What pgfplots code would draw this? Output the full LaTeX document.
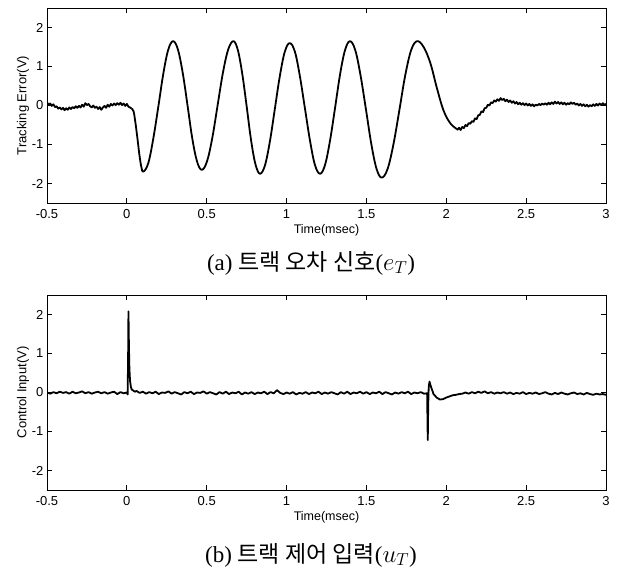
\documentclass[border=0pt]{standalone}
\usepackage{fontspec}
\setmainfont{Liberation Serif}
\setsansfont{Liberation Sans}
\newfontfamily\kr{Noto Sans CJK KR}
\usepackage{pgfplots}
\pgfplotsset{compat=1.18}

\pgfplotsset{
  scope/.style={
    scale only axis, width=559pt, height=195pt,
    xmin=-0.5, xmax=3, ymin=-2.5, ymax=2.5,
    xtick={-0.5,0,0.5,1,1.5,2,2.5,3},
    ytick={-2,-1,0,1,2},
    tick align=inside, major tick length=5pt,
    axis line style={line width=0.9pt},
    every tick/.style={black, line width=0.8pt},
    /pgf/number format/assume math mode=true,
    ticklabel style={font=\sffamily\fontsize{13}{13}\selectfont},
    xticklabel style={yshift=-3pt},
    xlabel style={font=\sffamily\fontsize{12.5}{12.5}\selectfont, yshift=1pt},
    ylabel style={font=\sffamily\fontsize{13}{13}\selectfont, yshift=-4pt},
    xlabel={Time(msec)},
  },
  trace/.style={black, line width=1.8pt, line join=round},
}

\begin{document}
\begin{tikzpicture}
% (a) tracking error
\begin{axis}[scope, at={(47pt,368pt)}, anchor=south west, ylabel={Tracking Error(V)}]
\addplot[trace] coordinates {
(-0.50,0.08) (-0.49,0.02) (-0.48,0.05) (-0.47,-0.01) (-0.46,0.03) (-0.45,-0.04)
(-0.44,-0.02) (-0.43,-0.08) (-0.42,-0.05) (-0.41,-0.10) (-0.40,-0.06) (-0.39,-0.12)
(-0.38,-0.07) (-0.37,-0.11) (-0.36,-0.05) (-0.35,-0.09) (-0.34,-0.04) (-0.33,-0.07)
(-0.32,-0.02) (-0.31,-0.06) (-0.30,-0.01) (-0.29,-0.05) (-0.28,0.02) (-0.27,-0.03)
(-0.26,0.06) (-0.25,0.01) (-0.24,0.04) (-0.23,-0.02) (-0.22,-0.05) (-0.21,0.00)
(-0.20,-0.06) (-0.19,-0.03) (-0.18,-0.09) (-0.17,-0.04) (-0.16,-0.11) (-0.15,-0.05)
(-0.14,-0.01) (-0.13,-0.06) (-0.12,0.02) (-0.11,-0.03) (-0.10,0.04) (-0.09,0.00)
(-0.08,0.05) (-0.07,0.01) (-0.06,0.06) (-0.05,0.02) (-0.04,0.07) (-0.03,0.01)
(-0.02,0.05) (-0.01,-0.01) (0.00,0.04) (0.01,-0.03) (0.02,-0.05) (0.03,-0.08)
};
\addplot[trace, smooth, tension=0.6] coordinates {
(0.03,-0.08) (0.042,-0.15) (0.054,-0.45) (0.067,-0.87) (0.079,-1.28) (0.091,-1.58)
(0.103,-1.70) (0.134,-1.48) (0.165,-0.86) (0.197,-0.03) (0.228,0.81) (0.259,1.43)
(0.29,1.65) (0.320,1.43) (0.350,0.83) (0.380,0.0) (0.409,-0.83) (0.439,-1.43)
(0.469,-1.65) (0.502,-1.43) (0.535,-0.83) (0.568,0.0) (0.601,0.83) (0.634,1.43)
(0.667,1.65) (0.695,1.42) (0.723,0.80) (0.751,-0.05) (0.778,-0.90) (0.806,-1.52)
(0.834,-1.75) (0.865,-1.53) (0.896,-0.91) (0.927,-0.075) (0.958,0.76) (0.989,1.38)
(1.02,1.6) (1.052,1.38) (1.083,0.76) (1.115,-0.075) (1.147,-0.91) (1.178,-1.53)
(1.21,-1.75) (1.241,-1.52) (1.272,-0.90) (1.304,-0.05) (1.335,0.80) (1.366,1.42)
(1.397,1.65) (1.430,1.42) (1.463,0.775) (1.497,-0.10) (1.530,-0.975) (1.563,-1.62)
(1.596,-1.85) (1.633,-1.62) (1.670,-0.975) (1.707,-0.10) (1.743,0.775) (1.780,1.42)
(1.817,1.65) (1.858,1.50) (1.900,1.09) (1.941,0.45) (1.982,-0.12) (2.024,-0.45)
(2.065,-0.60)
};
\addplot[trace] coordinates {
(2.065,-0.60) (2.07,-0.62) (2.08,-0.57) (2.09,-0.63) (2.10,-0.55) (2.11,-0.58) (2.12,-0.50)
(2.13,-0.53) (2.14,-0.45) (2.15,-0.47) (2.16,-0.40) (2.17,-0.42) (2.18,-0.33)
(2.19,-0.35) (2.20,-0.25) (2.21,-0.24) (2.22,-0.15) (2.23,-0.17) (2.24,-0.07)
(2.25,-0.06) (2.26,0.02) (2.27,0.00) (2.28,0.08) (2.29,0.06) (2.30,0.13)
(2.31,0.10) (2.32,0.16) (2.33,0.12) (2.34,0.19) (2.35,0.14) (2.36,0.17)
(2.37,0.11) (2.38,0.15) (2.39,0.09) (2.40,0.13) (2.41,0.07) (2.42,0.11)
(2.43,0.05) (2.44,0.09) (2.45,0.03) (2.46,0.07) (2.47,0.02) (2.48,0.06)
(2.49,0.01) (2.50,0.05) (2.51,0.00) (2.52,0.04) (2.53,-0.01) (2.54,0.03)
(2.55,-0.02) (2.56,0.02) (2.57,0.00) (2.58,0.04) (2.59,0.01) (2.60,0.05)
(2.61,0.02) (2.62,0.06) (2.63,0.02) (2.64,0.07) (2.65,0.03) (2.66,0.08)
(2.67,0.04) (2.68,0.10) (2.69,0.05) (2.70,0.09) (2.71,0.04) (2.72,0.08)
(2.73,0.03) (2.74,0.07) (2.75,0.02) (2.76,0.06) (2.77,0.03) (2.78,0.08)
(2.79,0.04) (2.80,0.07) (2.81,0.02) (2.82,0.05) (2.83,0.00) (2.84,0.04)
(2.85,-0.01) (2.86,0.03) (2.87,-0.02) (2.88,0.02) (2.89,-0.03) (2.90,0.01)
(2.91,-0.02) (2.92,0.03) (2.93,-0.01) (2.94,0.04) (2.95,0.00) (2.96,0.05)
(2.97,0.01) (2.98,0.06) (2.99,0.02) (3.00,0.04)
};
\end{axis}
\node[font=\fontsize{23}{23}\selectfont] at (311pt,308pt) {(a) {\kr 트랙 오차 신호}($e_{T}$)};

% (b) control input
\begin{axis}[scope, at={(47pt,81pt)}, anchor=south west, ylabel={Control Input(V)}]
\addplot[trace] coordinates {
(-0.50,0.00) (-0.48,-0.03) (-0.46,0.01) (-0.44,-0.02) (-0.42,0.02) (-0.40,-0.01)
(-0.38,0.01) (-0.36,-0.03) (-0.34,0.02) (-0.32,-0.02) (-0.30,0.00) (-0.28,0.03)
(-0.26,-0.02) (-0.24,0.01) (-0.22,-0.03) (-0.20,0.00) (-0.18,0.02) (-0.16,-0.02)
(-0.14,0.01) (-0.12,-0.03) (-0.10,0.00) (-0.08,0.02) (-0.06,-0.04) (-0.04,0.01)
(-0.02,-0.02) (0.000,0.00) (0.005,-0.05) (0.008,1.0) (0.010,2.08) (0.013,1.2)
(0.016,0.6) (0.020,0.3) (0.025,0.15) (0.030,0.08) (0.04,0.05) (0.05,0.02)
(0.06,0.04) (0.08,-0.01) (0.10,0.02) (0.12,-0.03) (0.14,0.01) (0.16,-0.02)
(0.18,0.02) (0.20,-0.04) (0.22,0.00) (0.24,-0.01) (0.26,0.03) (0.28,-0.03)
(0.30,0.01) (0.32,-0.02) (0.34,-0.05) (0.36,0.01) (0.38,-0.02) (0.40,0.02)
(0.42,-0.04) (0.44,0.00) (0.46,-0.01) (0.48,0.03) (0.50,-0.03) (0.52,0.01)
(0.54,-0.02) (0.56,-0.05) (0.58,0.01) (0.60,-0.03) (0.62,0.02) (0.64,-0.04)
(0.66,0.00) (0.68,-0.02) (0.70,0.02) (0.72,-0.05) (0.74,0.00) (0.76,-0.03)
(0.78,0.01) (0.80,-0.04) (0.82,0.00) (0.84,-0.02) (0.86,0.02) (0.88,-0.04)
(0.90,0.01) (0.92,-0.02) (0.94,0.06) (0.96,-0.01) (0.98,-0.04) (1.00,0.00)
(1.02,-0.03) (1.04,0.01) (1.06,-0.05) (1.08,-0.01) (1.10,-0.03) (1.12,0.01)
(1.14,-0.04) (1.16,0.00) (1.18,-0.02) (1.20,0.02) (1.22,-0.04) (1.24,0.00)
(1.26,-0.03) (1.28,0.01) (1.30,-0.02) (1.32,-0.05) (1.34,0.01) (1.36,-0.03)
(1.38,0.02) (1.40,-0.04) (1.42,0.00) (1.44,-0.02) (1.46,0.02) (1.48,-0.03)
(1.50,0.01) (1.52,-0.04) (1.54,0.00) (1.56,-0.02) (1.58,0.02) (1.60,-0.04)
(1.62,0.01) (1.64,-0.02) (1.66,-0.05) (1.68,0.00) (1.70,-0.03) (1.72,0.01)
(1.74,-0.02) (1.76,0.02) (1.78,-0.04) (1.80,0.00) (1.82,-0.02) (1.84,0.01)
(1.86,-0.03) (1.880,-0.02) (1.884,-1.22) (1.887,-0.30) (1.890,0.15) (1.895,0.28)
(1.90,0.20) (1.91,0.08) (1.92,-0.04) (1.94,-0.13) (1.96,-0.18) (1.98,-0.17)
(2.00,-0.13) (2.02,-0.10) (2.04,-0.07) (2.06,-0.06) (2.08,-0.04) (2.10,-0.03)
(2.12,0.00) (2.14,-0.03) (2.16,0.01) (2.18,-0.02) (2.20,0.02) (2.22,-0.01)
(2.24,0.03) (2.26,-0.02) (2.28,0.01) (2.30,-0.03) (2.32,0.00) (2.34,-0.02)
(2.36,0.01) (2.38,-0.03) (2.40,0.00) (2.42,-0.04) (2.44,-0.01) (2.46,-0.03)
(2.48,0.01) (2.50,-0.04) (2.52,-0.01) (2.54,-0.03) (2.56,0.00) (2.58,-0.04)
(2.60,-0.02) (2.62,0.01) (2.64,-0.03) (2.66,-0.05) (2.68,-0.01) (2.70,-0.04)
(2.72,0.00) (2.74,-0.03) (2.76,-0.05) (2.78,-0.02) (2.80,0.00) (2.82,-0.04)
(2.84,-0.02) (2.86,-0.05) (2.88,-0.01) (2.90,-0.04) (2.92,-0.06) (2.94,-0.03)
(2.96,-0.05) (2.98,-0.04) (3.00,-0.06)
};
\end{axis}
\node[font=\fontsize{23}{23}\selectfont] at (311pt,16pt) {(b) {\kr 트랙 제어 입력}($u_{T}$)};

\pgfresetboundingbox
\path[use as bounding box] (0,0) rectangle (620pt,571pt);
\end{tikzpicture}
\end{document}
